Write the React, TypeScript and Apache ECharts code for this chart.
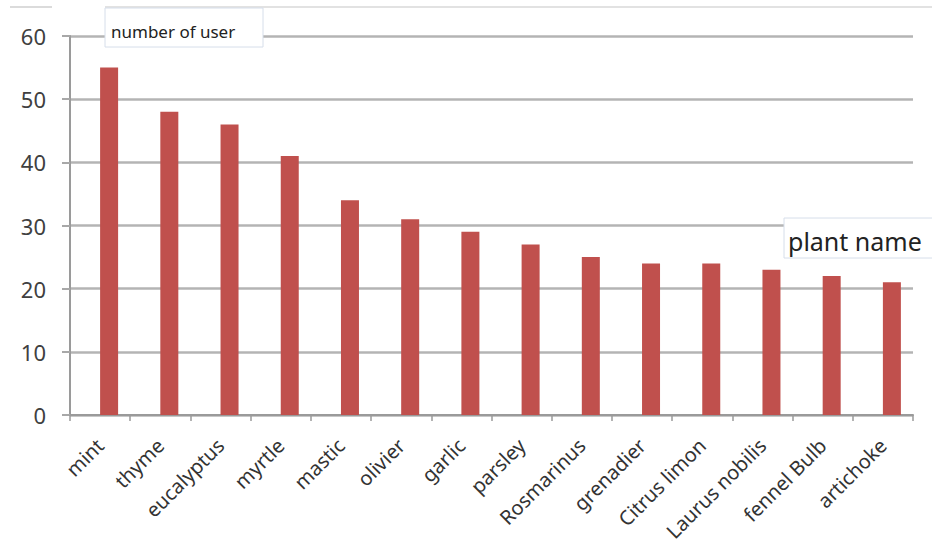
import React, { useEffect, useRef } from "react";
import * as echarts from "echarts";

const categories = ["mint", "thyme", "eucalyptus", "myrtle", "mastic", "olivier", "garlic", "parsley", "Rosmarinus", "grenadier", "Citrus limon", "Laurus nobilis", "fennel Bulb", "artichoke"];
const users = [55, 48, 46, 41, 34, 31, 29, 27, 25, 24, 24, 23, 22, 21];
const spacer = categories.map(() => "-");
const yTicks = { min: 0, max: 60, interval: 10 };

export default function App() {
  const ref = useRef<HTMLDivElement>(null);
  useEffect(() => {
    const chart = echarts.init(ref.current!, undefined, { renderer: "svg" });
    const font = "Noto Sans";
    chart.setOption({
      animation: false,
      backgroundColor: "#ffffff",
      grid: { left: 70, right: 19, top: 36, bottom: 139, containLabel: false },
      xAxis: {
        type: "category",
        data: categories,
        boundaryGap: true,
        axisLine: { lineStyle: { color: "#9a9a9a", width: 2 } },
        axisTick: { show: true, length: 6, alignWithLabel: false, lineStyle: { color: "#9a9a9a", width: 1.5 } },
        axisLabel: { rotate: 45, interval: 0, margin: 27, color: "#333", fontSize: 20, fontFamily: font },
      },
      yAxis: {
        type: "value",
        min: yTicks.min,
        max: yTicks.max,
        interval: yTicks.interval,
        axisLine: { show: true, lineStyle: { color: "#9a9a9a", width: 2 } },
        axisTick: { show: true, length: 8, lineStyle: { color: "#a8a8a8", width: 2 } },
        axisLabel: { color: "#404040", fontSize: 22, fontFamily: font, margin: 24 },
        splitLine: { lineStyle: { color: "#b4b4b4", width: 2.5 } },
      },
      series: [
        { type: "bar", data: spacer, barWidth: 18, barGap: "0%", itemStyle: { color: "transparent" }, silent: true },
        { type: "bar", data: users, barWidth: 18, itemStyle: { color: "#c0504d" } },
      ],
      graphic: [
        { type: "line", z: 100, shape: { x1: 10, y1: 7, x2: 52, y2: 7 }, style: { stroke: "#cfcfcf", lineWidth: 1.5 } },
        { type: "line", z: 100, shape: { x1: 105, y1: 7, x2: 932, y2: 7 }, style: { stroke: "#d8d8d8", lineWidth: 1.5 } },
        { type: "rect", z: 100, shape: { x: 105, y: 8, width: 158, height: 39 }, style: { fill: "#ffffff", stroke: "#d6deea", lineWidth: 1 } },
        { type: "text", z: 101, x: 111, y: 31, style: { text: "number of user", fontSize: 17, fontFamily: font, fill: "#222", verticalAlign: "middle" } },
        { type: "rect", z: 100, shape: { x: 784, y: 218, width: 150, height: 40 }, style: { fill: "#ffffff", stroke: "#d6deea", lineWidth: 1 } },
        { type: "text", z: 101, x: 788, y: 241, style: { text: "plant name", fontSize: 25, fontFamily: font, fill: "#222", verticalAlign: "middle" } },
      ],
    });
    return () => chart.dispose();
  }, []);
  return <div ref={ref} style={{ position: "fixed", left: 0, top: 0, width: 932, height: 554 }} />;
}
